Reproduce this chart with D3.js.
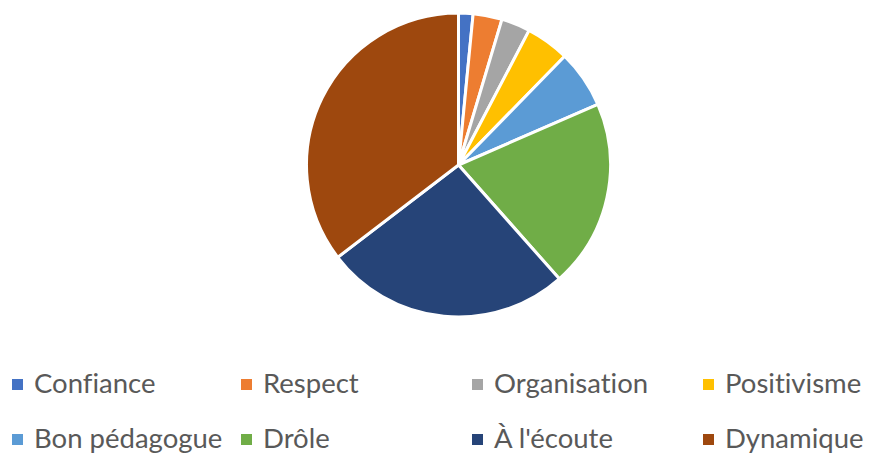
<!DOCTYPE html>
<html>
<head>
<meta charset="utf-8">
<script src="https://cdn.jsdelivr.net/npm/d3@7/dist/d3.min.js"></script>
<style>
  html, body { margin: 0; padding: 0; background: #fff; }
  svg { display: block; }
</style>
</head>
<body>
<svg id="chart" width="869" height="456"></svg>
<script>
// Qualités citées (nombre de réponses)
const categories = ["Confiance", "Respect", "Organisation", "Positivisme",
                    "Bon pédagogue", "Drôle", "À l'écoute", "Dynamique"];
const counts = [1, 2, 2, 3, 4, 13, 17, 23];
const colors = ["#4472C4", "#ED7D31", "#A5A5A5", "#FFC000",
                "#5B9BD5", "#70AD47", "#264478", "#9E480E"];

const data = categories.map((c, i) => ({ label: c, value: counts[i], color: colors[i] }));

const svg = d3.select("#chart");
const cx = 458.5, cy = 165, radius = 152;

const pie = d3.pie().sort(null).value(d => d.value);
const arc = d3.arc().innerRadius(0).outerRadius(radius);

svg.append("g")
  .attr("transform", `translate(${cx},${cy})`)
  .selectAll("path")
  .data(pie(data))
  .join("path")
  .attr("d", arc)
  .attr("fill", d => d.data.color)
  .attr("stroke", "#fff")
  .attr("stroke-width", 3)
  .attr("stroke-linejoin", "round");

// Légende : 2 lignes x 4 colonnes
const colX = [12, 241, 472, 703];
const rowY = [393, 448];
const legend = svg.append("g")
  .style("font-family", "Lato, 'Open Sans', sans-serif")
  .style("font-size", "27.5px")
  .style("font-variant-ligatures", "none");

const item = legend.selectAll("g")
  .data(data)
  .join("g")
  .attr("transform", (d, i) => `translate(${colX[i % 4]},${rowY[Math.floor(i / 4)]})`);

item.append("rect")
  .attr("x", 0).attr("y", -14)
  .attr("width", 11).attr("height", 11)
  .attr("fill", d => d.color);

item.append("text")
  .attr("x", 22).attr("y", 0)
  .attr("fill", "#595959")
  .text(d => d.label);
</script>
</body>
</html>
